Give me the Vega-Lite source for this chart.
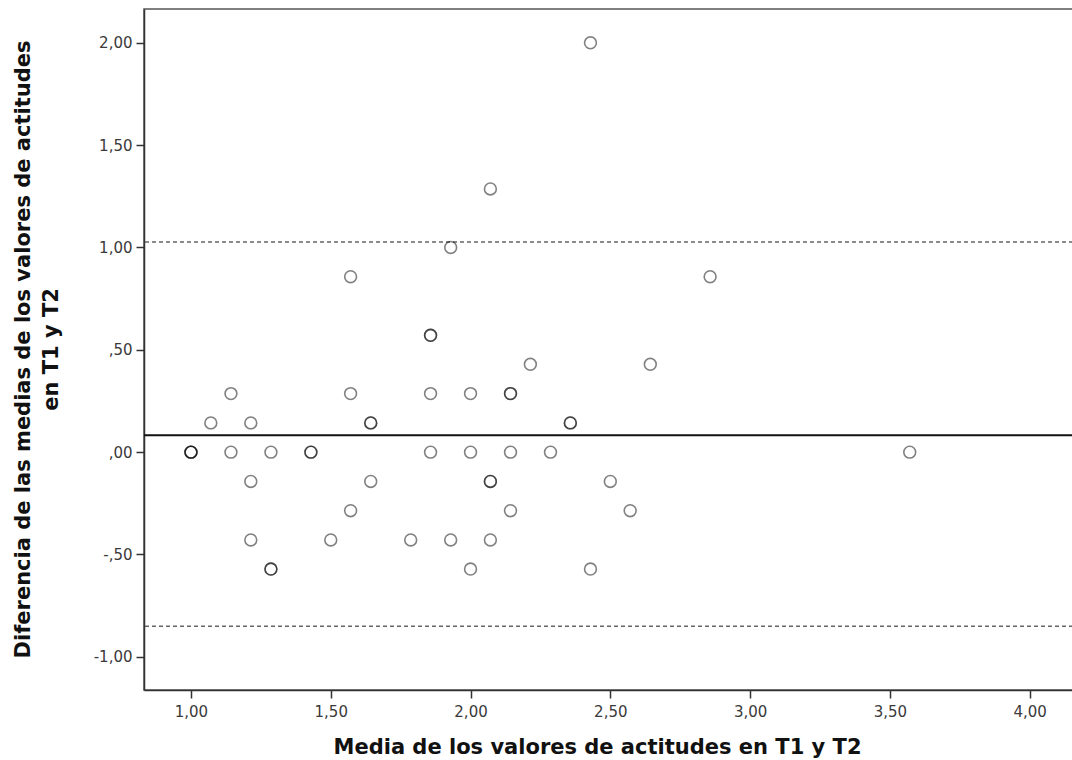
{
  "$schema": "https://vega.github.io/schema/vega-lite/v6.json",
  "autosize": {"type": "none"},
  "padding": {"left": 144, "top": 9, "right": 0, "bottom": 70},
  "width": 929,
  "height": 681,
  "background": "white",
  "config": {
    "view": {"stroke": "#555", "strokeWidth": 1.5},
    "axis": {
      "labelFont": "DejaVu Sans",
      "labelFontSize": 15,
      "labelColor": "#3a3a3a",
      "titleFont": "DejaVu Sans",
      "titleFontWeight": "bold",
      "titleFontSize": 21,
      "titleColor": "#111",
      "domainColor": "#333",
      "domainWidth": 1.5,
      "tickColor": "#333",
      "tickWidth": 1.5,
      "tickSize": 8,
      "grid": false
    }
  },
  "datasets": {
    "points": [
      {"media": 2.429, "dif": 2.0},
      {"media": 2.071, "dif": 1.286},
      {"media": 1.929, "dif": 1.0},
      {"media": 1.571, "dif": 0.857},
      {"media": 2.857, "dif": 0.857},
      {"media": 1.857, "dif": 0.571},
      {"media": 1.857, "dif": 0.571},
      {"media": 2.214, "dif": 0.429},
      {"media": 2.643, "dif": 0.429},
      {"media": 1.143, "dif": 0.286},
      {"media": 1.571, "dif": 0.286},
      {"media": 1.857, "dif": 0.286},
      {"media": 2.0, "dif": 0.286},
      {"media": 2.143, "dif": 0.286},
      {"media": 2.143, "dif": 0.286},
      {"media": 1.071, "dif": 0.143},
      {"media": 1.214, "dif": 0.143},
      {"media": 1.643, "dif": 0.143},
      {"media": 1.643, "dif": 0.143},
      {"media": 2.357, "dif": 0.143},
      {"media": 2.357, "dif": 0.143},
      {"media": 1.0, "dif": 0.0},
      {"media": 1.0, "dif": 0.0},
      {"media": 1.0, "dif": 0.0},
      {"media": 1.143, "dif": 0.0},
      {"media": 1.286, "dif": 0.0},
      {"media": 1.429, "dif": 0.0},
      {"media": 1.429, "dif": 0.0},
      {"media": 1.857, "dif": 0.0},
      {"media": 2.0, "dif": 0.0},
      {"media": 2.143, "dif": 0.0},
      {"media": 2.286, "dif": 0.0},
      {"media": 3.571, "dif": 0.0},
      {"media": 1.214, "dif": -0.143},
      {"media": 1.643, "dif": -0.143},
      {"media": 2.071, "dif": -0.143},
      {"media": 2.071, "dif": -0.143},
      {"media": 2.5, "dif": -0.143},
      {"media": 1.571, "dif": -0.286},
      {"media": 2.143, "dif": -0.286},
      {"media": 2.571, "dif": -0.286},
      {"media": 1.214, "dif": -0.429},
      {"media": 1.5, "dif": -0.429},
      {"media": 1.786, "dif": -0.429},
      {"media": 1.929, "dif": -0.429},
      {"media": 2.071, "dif": -0.429},
      {"media": 1.286, "dif": -0.571},
      {"media": 1.286, "dif": -0.571},
      {"media": 2.0, "dif": -0.571},
      {"media": 2.429, "dif": -0.571}
    ],
    "lines": [
      {"valor": 0.083, "tipo": "media"},
      {"valor": 1.027, "tipo": "limite"},
      {"valor": -0.851, "tipo": "limite"}
    ]
  },
  "layer": [
    {
      "data": {"name": "lines"},
      "transform": [{"filter": "datum.tipo === 'limite'"}],
      "mark": {"type": "rule", "color": "#666", "strokeWidth": 1.5, "strokeDash": [4, 3]},
      "encoding": {"y": {"field": "valor", "type": "quantitative", "scale": {"domain": [-1.162, 2.165], "nice": false, "zero": false}}}
    },
    {
      "data": {"name": "lines"},
      "transform": [{"filter": "datum.tipo === 'media'"}],
      "mark": {"type": "rule", "color": "#111", "strokeWidth": 2},
      "encoding": {"y": {"field": "valor", "type": "quantitative"}}
    },
    {
      "data": {"name": "points"},
      "mark": {"type": "point", "shape": "circle", "filled": false, "stroke": "#000", "strokeWidth": 1.6, "strokeOpacity": 0.7, "size": 140},
      "encoding": {
        "x": {
          "field": "media", "type": "quantitative",
          "scale": {"domain": [0.832, 4.155], "nice": false, "zero": false},
          "axis": {
            "values": [1, 1.5, 2, 2.5, 3, 3.5, 4],
            "labelExpr": "replace(format(datum.value, '.2f'), '.', ',')",
            "title": "Media de los valores de actitudes en T1 y T2",
            "titleX": 453,
            "titleY": 57,
            "titleBaseline": "middle",
            "titleAlign": "center",
            "labelPadding": 6
          }
        },
        "y": {
          "field": "dif", "type": "quantitative",
          "scale": {"domain": [-1.162, 2.165], "nice": false, "zero": false},
          "axis": {
            "values": [-1, -0.5, 0, 0.5, 1, 1.5, 2],
            "labelExpr": "replace(replace(replace(format(datum.value, '.2f'), '−', '-'), '0.', '.'), '.', ',')",
            "title": ["Diferencia de las medias de los valores de actitudes", "en T1 y T2"],
            "titleAngle": -90,
            "titleX": -132,
            "titleY": 340,
            "titleAlign": "center",
            "titleBaseline": "top",
            "titleLineHeight": 28,
            "labelPadding": 4
          }
        }
      }
    }
  ]
}
